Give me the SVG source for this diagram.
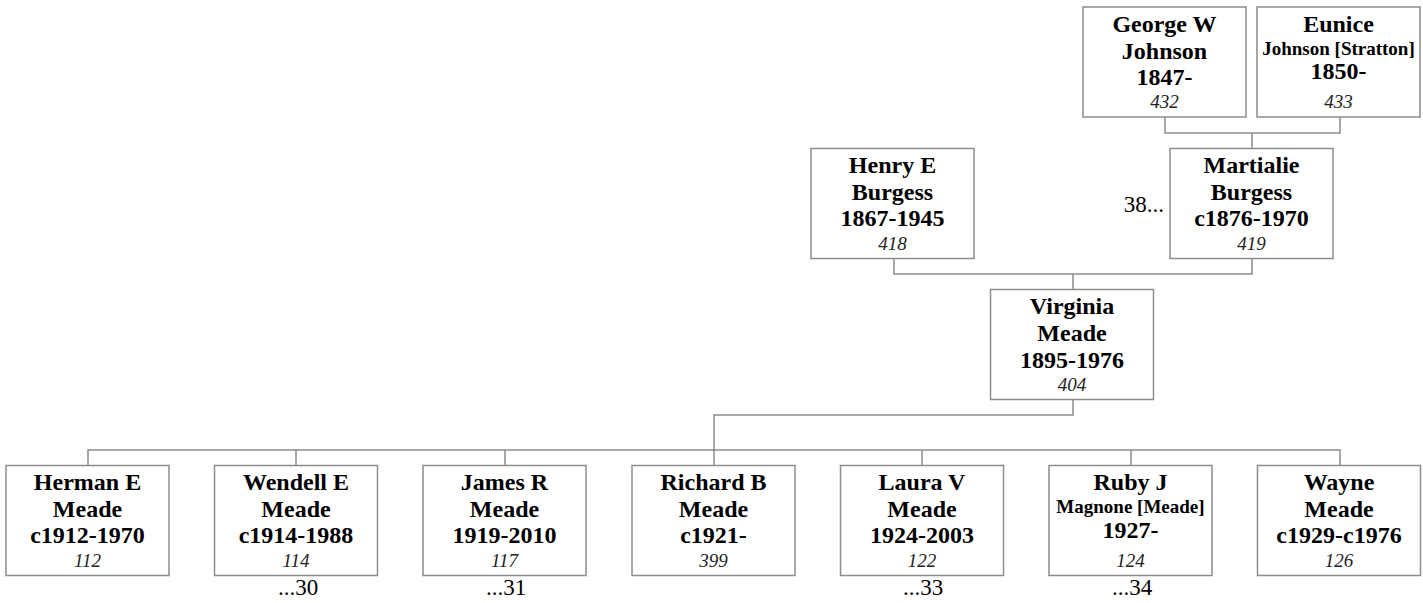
<svg xmlns="http://www.w3.org/2000/svg" width="1423" height="603" viewBox="0 0 1423 603">
<style>
.box{fill:#fff;stroke:#8c8c8c;stroke-width:1.5}
.ln{fill:none;stroke:#8c8c8c;stroke-width:1.5}
text{font-family:"Liberation Serif","Times New Roman",serif;fill:#000;text-anchor:middle}
.n{font-size:24px;font-weight:bold}
.s{font-size:19px;font-weight:bold}
.i{font-size:19px;font-style:italic;fill:#222}
.l{font-size:23px}
</style>
<rect width="1423" height="603" fill="#fff"/>
<g id="connectors">
<path class="ln" d="M1165,117V133H1340V117M1252,133V148.5"/>
<path class="ln" d="M894,258.5V274H1252V258.5M1073,274V289.5"/>
<path class="ln" d="M1073,399.5V415H714V465.5"/>
<path class="ln" d="M88,465.5V450H1340V465.5M296,450V465.5M505,450V465.5M922,450V465.5M1131,450V465.5"/>
</g>
<g id="n432"><rect class="box" x="1083" y="7" width="163" height="110"/>
<text class="n" x="1164.5" y="31.5">George W</text><text class="n" x="1164.5" y="58.5">Johnson</text><text class="n" x="1164.5" y="84.5">1847-</text><text class="i" x="1164.5" y="107.5">432</text></g>
<g id="n433"><rect class="box" x="1257" y="7" width="163" height="110"/>
<text class="n" x="1338.5" y="31.5">Eunice</text><text class="s" x="1338.5" y="54.5">Johnson [Stratton]</text><text class="n" x="1338.5" y="79">1850-</text><text class="i" x="1338.5" y="107.5">433</text></g>
<g id="n418"><rect class="box" x="811" y="148.5" width="163" height="110"/>
<text class="n" x="892.5" y="173">Henry E</text><text class="n" x="892.5" y="200">Burgess</text><text class="n" x="892.5" y="226">1867-1945</text><text class="i" x="892.5" y="249.5">418</text></g>
<g id="n419"><rect class="box" x="1170" y="148.5" width="163" height="110"/>
<text class="n" x="1251.5" y="173">Martialie</text><text class="n" x="1251.5" y="200">Burgess</text><text class="n" x="1251.5" y="226">c1876-1970</text><text class="i" x="1251.5" y="249.5">419</text>
<text class="l" x="1164" y="212" style="text-anchor:end">38...</text></g>
<g id="n404"><rect class="box" x="990.5" y="289.5" width="163" height="110"/>
<text class="n" x="1072" y="314">Virginia</text><text class="n" x="1072" y="341">Meade</text><text class="n" x="1072" y="367.5">1895-1976</text><text class="i" x="1072" y="390.5">404</text></g>
<g id="n112"><rect class="box" x="6" y="465.5" width="163" height="110"/>
<text class="n" x="87.5" y="490">Herman E</text><text class="n" x="87.5" y="517">Meade</text><text class="n" x="87.5" y="543">c1912-1970</text><text class="i" x="87.5" y="566.5">112</text></g>
<g id="n114"><rect class="box" x="214.5" y="465.5" width="163" height="110"/>
<text class="n" x="296" y="490">Wendell E</text><text class="n" x="296" y="517">Meade</text><text class="n" x="296" y="543">c1914-1988</text><text class="i" x="296" y="566.5">114</text>
<text class="l" x="298" y="595">...30</text></g>
<g id="n117"><rect class="box" x="423" y="465.5" width="163" height="110"/>
<text class="n" x="504.5" y="490">James R</text><text class="n" x="504.5" y="517">Meade</text><text class="n" x="504.5" y="543">1919-2010</text><text class="i" x="504.5" y="566.5">117</text>
<text class="l" x="506" y="595">...31</text></g>
<g id="n399"><rect class="box" x="632" y="465.5" width="163" height="110"/>
<text class="n" x="713.5" y="490">Richard B</text><text class="n" x="713.5" y="517">Meade</text><text class="n" x="713.5" y="543">c1921-</text><text class="i" x="713.5" y="566.5">399</text></g>
<g id="n122"><rect class="box" x="840.5" y="465.5" width="163" height="110"/>
<text class="n" x="922" y="490">Laura V</text><text class="n" x="922" y="517">Meade</text><text class="n" x="922" y="543">1924-2003</text><text class="i" x="922" y="566.5">122</text>
<text class="l" x="923" y="595">...33</text></g>
<g id="n124"><rect class="box" x="1049" y="465.5" width="163" height="110"/>
<text class="n" x="1130.5" y="490">Ruby J</text><text class="s" x="1130.5" y="513">Magnone [Meade]</text><text class="n" x="1130.5" y="537.5">1927-</text><text class="i" x="1130.5" y="566.5">124</text>
<text class="l" x="1132" y="595">...34</text></g>
<g id="n126"><rect class="box" x="1257.5" y="465.5" width="163" height="110"/>
<text class="n" x="1339" y="490">Wayne</text><text class="n" x="1339" y="517">Meade</text><text class="n" x="1339" y="543">c1929-c1976</text><text class="i" x="1339" y="566.5">126</text></g>
</svg>
